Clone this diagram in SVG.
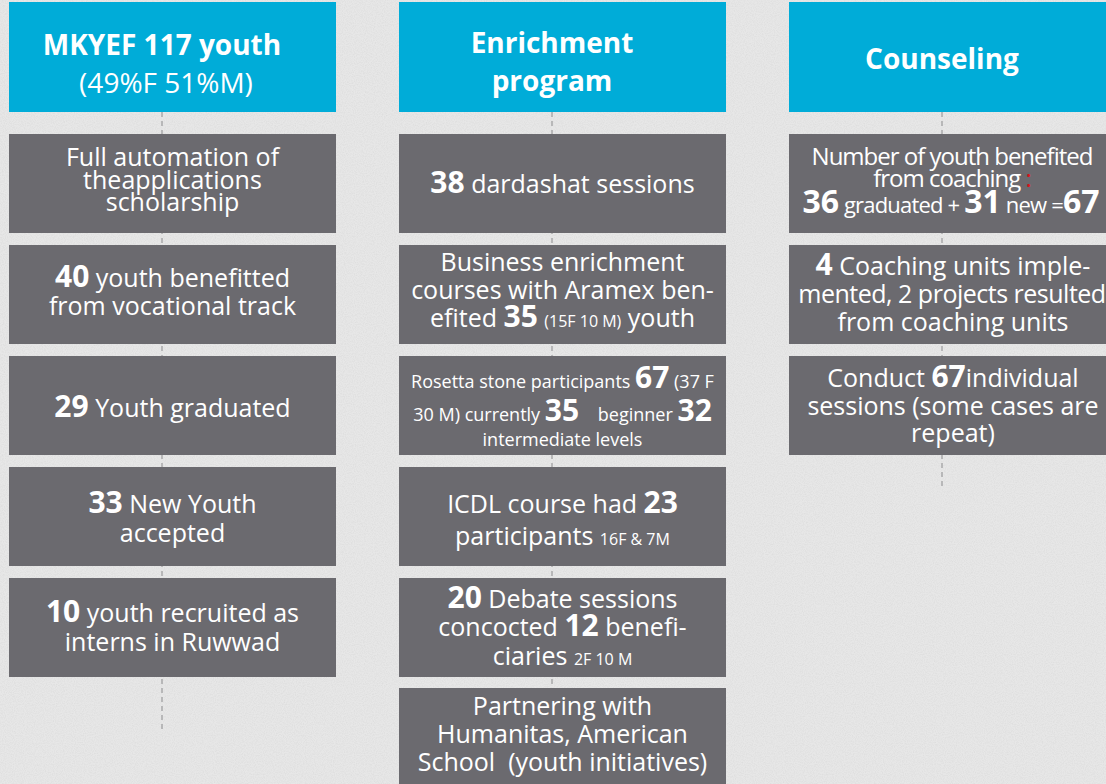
<svg xmlns="http://www.w3.org/2000/svg" width="1106" height="784" viewBox="0 0 1106 784">
<style>
.hdr{fill:#00acd8}
.box{fill:#6b6a6f}
text{font-family:"Open Sans","Noto Sans","Liberation Sans",sans-serif;fill:#ffffff;text-anchor:middle}
.t{font-size:25px}
.hb{font-size:28px;font-weight:bold}
.hr{font-size:28px}
.b{font-weight:bold;font-size:30px}
.s{font-size:16px}
.r{font-size:18px}
.conn{stroke:#9a9a9c;stroke-width:1.2;stroke-dasharray:5 4;fill:none}
</style>
<defs>
<filter id="grain" x="0" y="0" width="100%" height="100%">
<feTurbulence type="fractalNoise" baseFrequency="0.9" numOctaves="2" seed="3" result="n"/>
<feColorMatrix type="matrix" values="0 0 0 0 0.55  0 0 0 0 0.55  0 0 0 0 0.55  0 0 0 -1.4 0.9"/>
</filter>
</defs>
<rect id="background" x="0" y="0" width="1106" height="784" fill="#e7e7e7"/>
<rect x="0" y="0" width="1106" height="784" filter="url(#grain)" opacity="0.35"/>

<g id="connectors">
<line class="conn" x1="162" y1="112" x2="162" y2="731"/>
<line class="conn" x1="552" y1="112" x2="552" y2="784"/>
<line class="conn" x1="942" y1="112" x2="942" y2="489"/>
</g>

<g id="col1-header">
<rect class="hdr" x="9" y="2" width="327" height="110"/>
<text x="162" y="55" class="hb">MKYEF 117 youth</text>
<text x="166" y="93" class="hr">(49%F 51%M)</text>
</g>
<g id="col1-box1">
<rect class="box" x="9" y="134" width="327" height="99"/>
<text x="172.5" y="166" class="t">Full automation of</text>
<text x="172.5" y="188.5" class="t">theapplications</text>
<text x="172.5" y="211" class="t">scholarship</text>
</g>
<g id="col1-box2">
<rect class="box" x="9" y="245" width="327" height="99"/>
<text x="172.5" y="287" class="t"><tspan class="b">40</tspan> youth benefitted</text>
<text x="172.5" y="315" class="t">from vocational track</text>
</g>
<g id="col1-box3">
<rect class="box" x="9" y="356" width="327" height="99"/>
<text x="172.5" y="417" class="t"><tspan class="b">29</tspan> Youth graduated</text>
</g>
<g id="col1-box4">
<rect class="box" x="9" y="467" width="327" height="99"/>
<text x="172.5" y="513" class="t"><tspan class="b">33</tspan> New Youth</text>
<text x="172.5" y="542" class="t">accepted</text>
</g>
<g id="col1-box5">
<rect class="box" x="9" y="578" width="327" height="99"/>
<text x="172.5" y="622" class="t"><tspan class="b">10</tspan> youth recruited as</text>
<text x="172.5" y="651" class="t">interns in Ruwwad</text>
</g>

<g id="col2-header">
<rect class="hdr" x="399" y="2" width="327" height="110"/>
<text x="552" y="53" class="hb">Enrichment</text>
<text x="552" y="91" class="hb">program</text>
</g>
<g id="col2-box1">
<rect class="box" x="399" y="134" width="327" height="99"/>
<text x="562.5" y="193" class="t"><tspan class="b">38</tspan> dardashat sessions</text>
</g>
<g id="col2-box2">
<rect class="box" x="399" y="245" width="327" height="99"/>
<text x="562.5" y="271" class="t">Business enrichment</text>
<text x="562.5" y="299" class="t">courses with Aramex ben-</text>
<text x="562.5" y="327" class="t">efited <tspan class="b">35</tspan> <tspan class="s">(15F 10 M)</tspan> youth</text>
</g>
<g id="col2-box3">
<rect class="box" x="399" y="356" width="327" height="99"/>
<text x="562.5" y="388" class="r">Rosetta stone participants <tspan class="b">67</tspan>  (37 F</text>
<text x="562.5" y="421" class="r" xml:space="preserve">30 M) currently <tspan class="b">35</tspan>    beginner <tspan class="b">32</tspan></text>
<text x="562.5" y="446" class="r">intermediate levels</text>
</g>
<g id="col2-box4">
<rect class="box" x="399" y="467" width="327" height="99"/>
<text x="562.5" y="513" class="t">ICDL course had <tspan class="b">23</tspan></text>
<text x="562.5" y="545" class="t">participants <tspan class="s">16F &amp; 7M</tspan></text>
</g>
<g id="col2-box5">
<rect class="box" x="399" y="578" width="327" height="99"/>
<text x="562.5" y="608" class="t"><tspan class="b">20</tspan> Debate sessions</text>
<text x="562.5" y="636" class="t">concocted <tspan class="b">12</tspan> benefi-</text>
<text x="562.5" y="665" class="t">ciaries <tspan class="s">2F 10 M</tspan></text>
</g>
<g id="col2-box6">
<rect class="box" x="399" y="688" width="327" height="100"/>
<text x="562.5" y="715" class="t">Partnering with</text>
<text x="562.5" y="743" class="t">Humanitas, American</text>
<text x="562.5" y="771" class="t" xml:space="preserve">School  (youth initiatives)</text>
</g>

<g id="col3-header">
<rect class="hdr" x="789" y="2" width="327" height="110"/>
<text x="942" y="69" class="hb">Counseling</text>
</g>
<g id="col3-box1">
<rect class="box" x="789" y="134" width="327" height="99"/>
<text x="952" y="165" class="t" style="font-size:24px;letter-spacing:-1px">Number of youth benefited</text>
<text x="952" y="187" class="t" style="font-size:24px;letter-spacing:-1px">from coaching <tspan style="fill:#d7141a"> :</tspan></text>
<text x="951" y="213" style="font-size:22px;letter-spacing:-0.8px"><tspan class="b" style="font-size:32px;letter-spacing:0">36</tspan> graduated + <tspan class="b" style="font-size:32px;letter-spacing:0">31</tspan> new =<tspan class="b" style="font-size:32px;letter-spacing:0">67</tspan></text>
</g>
<g id="col3-box2">
<rect class="box" x="789" y="245" width="327" height="99"/>
<text x="953" y="275" class="t"><tspan class="b">4</tspan> Coaching units imple-</text>
<text x="952" y="303" class="t" style="letter-spacing:-0.5px">mented, 2 projects resulted</text>
<text x="953" y="331" class="t">from coaching units</text>
</g>
<g id="col3-box3">
<rect class="box" x="789" y="356" width="327" height="99"/>
<text x="953" y="387" class="t">Conduct <tspan class="b">67</tspan>individual</text>
<text x="953" y="415" class="t">sessions (some cases are</text>
<text x="953" y="442" class="t">repeat)</text>
</g>
</svg>
